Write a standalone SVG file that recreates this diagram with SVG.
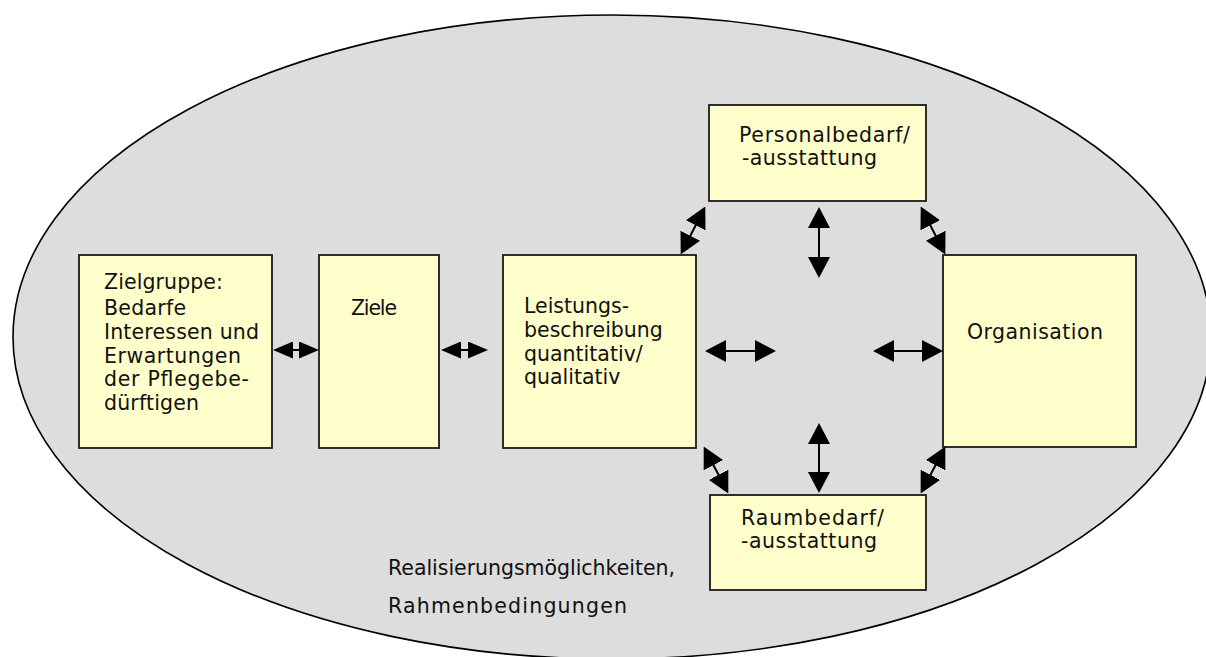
<svg xmlns="http://www.w3.org/2000/svg" width="1206" height="657" viewBox="0 0 1206 657">
<style>
.box{fill:#ffffcc;stroke:#1a1a1a;stroke-width:1.8}
.t{font-family:"DejaVu Sans","Liberation Sans",sans-serif;font-size:20.5px;fill:#111}
.a{stroke:#000;stroke-width:2;fill:none;marker-start:url(#h);marker-end:url(#h)}
.s{stroke:#000;stroke-width:2;fill:none;marker-start:url(#hs);marker-end:url(#hs)}
</style>
<defs>
<marker id="h" markerUnits="userSpaceOnUse" viewBox="0 0 21 22" refX="16" refY="11" markerWidth="21" markerHeight="22" orient="auto-start-reverse"><path d="M0,0 L21,11 L0,22 Z" fill="#000"/></marker>
<marker id="hs" markerUnits="userSpaceOnUse" viewBox="0 0 20 17" refX="15" refY="8.5" markerWidth="20" markerHeight="17" orient="auto-start-reverse"><path d="M0,0 L20,8.5 L0,17 Z" fill="#000"/></marker>
</defs>
<rect width="1206" height="657" fill="#fff"/>
<g id="umfeld">
<ellipse cx="612" cy="337" rx="599" ry="322" fill="#dddddd" stroke="#000" stroke-width="1.6"/>
<text class="t" x="388" y="575" textLength="287" lengthAdjust="spacing">Realisierungsmöglichkeiten,</text>
<text class="t" x="388" y="613" textLength="239" lengthAdjust="spacing">Rahmenbedingungen</text>
</g>
<g id="zielgruppe">
<rect class="box" x="79" y="255" width="193" height="193"/>
<text class="t" x="104" y="289" textLength="119" lengthAdjust="spacing">Zielgruppe:</text>
<text class="t" x="104" y="315" textLength="82" lengthAdjust="spacing">Bedarfe</text>
<text class="t" x="104" y="339" textLength="155" lengthAdjust="spacing">Interessen und</text>
<text class="t" x="104" y="363" textLength="137" lengthAdjust="spacing">Erwartungen</text>
<text class="t" x="104" y="386" textLength="145" lengthAdjust="spacing">der Pflegebe-</text>
<text class="t" x="104" y="410" textLength="95" lengthAdjust="spacing">dürftigen</text>
</g>
<g id="ziele">
<rect class="box" x="319" y="255" width="120" height="193"/>
<text class="t" x="351" y="315" textLength="46" lengthAdjust="spacing">Ziele</text>
</g>
<g id="leistung">
<rect class="box" x="503" y="255" width="193" height="193"/>
<text class="t" x="524" y="313">Leistungs-</text>
<text class="t" x="524" y="337">beschreibung</text>
<text class="t" x="524" y="361">quantitativ/</text>
<text class="t" x="524" y="384">qualitativ</text>
</g>
<g id="personal">
<rect class="box" x="709" y="105" width="217" height="96"/>
<text class="t" x="739" y="142" textLength="171" lengthAdjust="spacing">Personalbedarf/</text>
<text class="t" x="742" y="165" textLength="135" lengthAdjust="spacing">-ausstattung</text>
</g>
<g id="raum">
<rect class="box" x="710" y="495" width="216" height="95"/>
<text class="t" x="741" y="525" textLength="143" lengthAdjust="spacing">Raumbedarf/</text>
<text class="t" x="741" y="548" textLength="136" lengthAdjust="spacing">-ausstattung</text>
</g>
<g id="organisation">
<rect class="box" x="943" y="255" width="193" height="192"/>
<text class="t" x="967" y="339" textLength="136" lengthAdjust="spacing">Organisation</text>
</g>
<g id="connectors">
<line class="s" x1="278" y1="350" x2="314" y2="350"/>
<line class="s" x1="446" y1="350" x2="483" y2="350"/>
<line class="a" x1="710" y1="351" x2="771" y2="351"/>
<line class="a" x1="878" y1="351" x2="938" y2="351"/>
<line class="a" x1="819" y1="212" x2="819" y2="273"/>
<line class="a" x1="819" y1="428" x2="819" y2="488"/>
<line class="a" x1="683" y1="250" x2="703" y2="211"/>
<line class="a" x1="923" y1="211" x2="943" y2="250"/>
<line class="a" x1="706" y1="451" x2="726" y2="489"/>
<line class="a" x1="943" y1="451" x2="923" y2="489"/>
</g>
</svg>
